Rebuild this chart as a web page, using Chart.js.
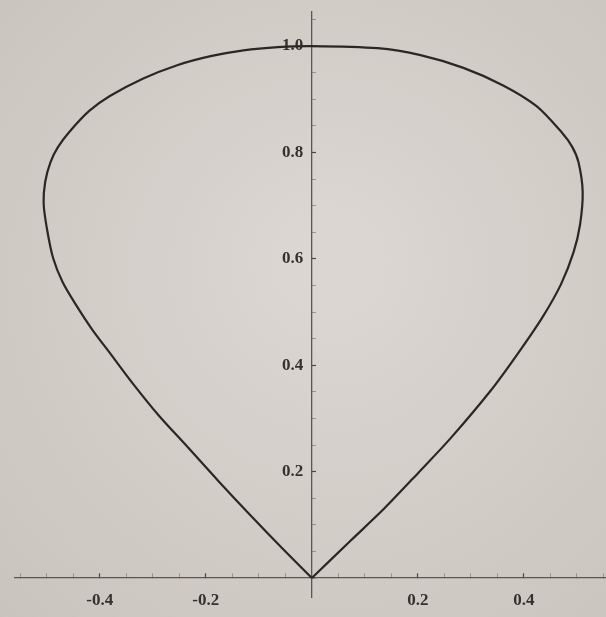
<!DOCTYPE html>
<html>
<head>
<meta charset="utf-8">
<script src="https://cdn.jsdelivr.net/npm/chart.js@4.4.0/dist/chart.umd.min.js"></script>
<style>
  html, body { margin: 0; padding: 0; background: #d3cdc7; }
  #wrap { width: 606px; height: 617px; position: relative; }
</style>
</head>
<body>
<div id="wrap"><canvas id="curve"></canvas></div>
<script>
// closed teardrop curve, traced from the cusp at the origin up the right side and back down the left
const curveX = [0, 0.073, 0.137, 0.202, 0.262, 0.338, 0.388, 0.435, 0.470, 0.494, 0.506, 0.511, 0.503, 0.491, 0.472, 0.424, 0.361, 0.286, 0.205, 0.124, 0,
    -0.064, -0.129, -0.191, -0.254, -0.318, -0.381, -0.420, -0.458, -0.479, -0.493, -0.503, -0.506, -0.500, -0.488, -0.470, -0.444, -0.415, -0.378, -0.338, -0.290, -0.236, -0.176, -0.115, -0.054, 0];
const curveY = [0, 0.070, 0.131, 0.199, 0.263, 0.353, 0.421, 0.490, 0.552, 0.613, 0.664, 0.726, 0.782, 0.811, 0.837, 0.887, 0.926, 0.959, 0.983, 0.996, 1.0,
    0.998, 0.992, 0.981, 0.964, 0.939, 0.906, 0.878, 0.838, 0.810, 0.782, 0.745, 0.705, 0.658, 0.601, 0.556, 0.512, 0.468, 0.419, 0.366, 0.307, 0.248, 0.182, 0.117, 0.054, 0];

const xTickLabels = [-0.4, -0.2, 0.2, 0.4];
const yTickLabels = [0.2, 0.4, 0.6, 0.8, 1.0];
const minorStep = 0.05;

const points = curveX.map((x, i) => ({ x: x, y: curveY[i] }));

const isLabelled = (list, v) => list.some(t => Math.abs(t - v) < 1e-6);

function minorTicks(scale) {
    const out = [];
    for (let i = Math.ceil(scale.min / minorStep); i * minorStep <= scale.max; i++) {
        out.push({ value: Math.round(i * minorStep * 100) / 100 });
    }
    scale.ticks = out;
}

// axes sit inside the plot, so their label overhang should not shrink it
function noOverhang(scale) {
    scale.paddingLeft = scale.paddingRight = scale.paddingTop = scale.paddingBottom = 0;
}

// paper-coloured backdrop
const paper = {
    id: 'paper',
    beforeDraw(chart) {
        const { ctx, width, height } = chart;
        const g = ctx.createRadialGradient(330, 260, 40, 330, 300, 480);
        g.addColorStop(0, '#dbd6d1');
        g.addColorStop(1, '#c9c3bd');
        ctx.save();
        ctx.fillStyle = g;
        ctx.fillRect(0, 0, width, height);
        ctx.restore();
    }
};

const tickFont = { family: "'Liberation Serif', 'DejaVu Serif', serif", size: 17, weight: 'bold' };

new Chart(document.getElementById('curve'), {
    type: 'scatter',
    data: {
        datasets: [{
            data: points,
            showLine: true,
            borderColor: '#2b2725',
            borderWidth: 2.2,
            pointRadius: 0,
            tension: 0.3
        }]
    },
    options: {
        responsive: true,
        maintainAspectRatio: false,
        animation: false,
        layout: { padding: { left: 15, right: 0, top: 12, bottom: 20 } },
        plugins: { legend: { display: false }, tooltip: { enabled: false } },
        scales: {
            x: {
                type: 'linear',
                min: -0.56,
                max: 0.555,
                position: { y: 0 },
                afterBuildTicks: minorTicks,
                afterFit: noOverhang,
                border: { color: '#5b5652', width: 1.3 },
                grid: {
                    drawOnChartArea: false,
                    tickLength: -5,
                    tickColor: c => isLabelled(xTickLabels, c.tick.value) ? '#4a4541' : '#8a847f',
                    tickWidth: c => isLabelled(xTickLabels, c.tick.value) ? 1.2 : 0.8
                },
                ticks: {
                    autoSkip: false,
                    maxRotation: 0,
                    padding: 17,
                    color: '#36312e',
                    font: tickFont,
                    callback: v => isLabelled(xTickLabels, v) ? v.toFixed(1) : ''
                }
            },
            y: {
                type: 'linear',
                min: -0.0357,
                max: 1.064,
                position: { x: 0 },
                afterBuildTicks: minorTicks,
                afterFit: noOverhang,
                border: { color: '#5b5652', width: 1.3 },
                grid: {
                    drawOnChartArea: false,
                    tickLength: -5,
                    tickColor: c => isLabelled(yTickLabels, c.tick.value) ? '#4a4541' : '#8a847f',
                    tickWidth: c => isLabelled(yTickLabels, c.tick.value) ? 1.2 : 0.8
                },
                ticks: {
                    autoSkip: false,
                    color: '#36312e',
                    font: tickFont,
                    // trailing spaces keep the labels clear of the axis line
                    callback: v => isLabelled(yTickLabels, v) ? v.toFixed(1) + '  ' : ''
                }
            }
        }
    },
    plugins: [paper]
});
</script>
</body>
</html>
